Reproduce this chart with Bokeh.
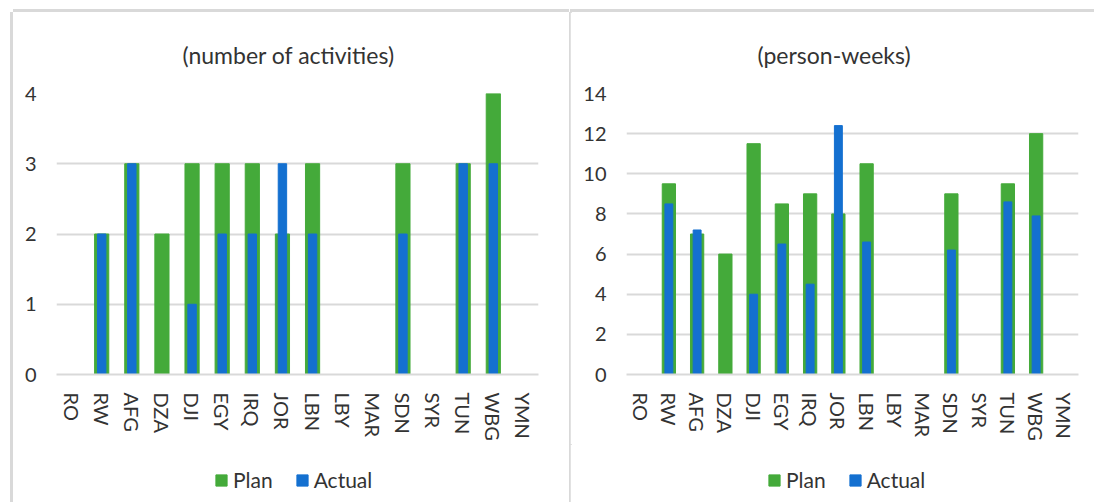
from bokeh.plotting import figure
from bokeh.models import FactorRange, Range1d, Legend, LegendItem, Title, SingleIntervalTicker
from bokeh.layouts import row, column
from bokeh.embed import file_html
from bokeh.resources import INLINE

cats = ["RO", "RW", "AFG", "DZA", "DJI", "EGY", "IRQ", "JOR", "LBN", "LBY", "MAR", "SDN", "SYR", "TUN", "WBG", "YMN"]
act_plan = [0, 2, 3, 2, 3, 3, 3, 2, 3, 0, 0, 3, 0, 3, 4, 0]
act_actual = [0, 2, 3, 0, 1, 2, 2, 3, 2, 0, 0, 2, 0, 3, 3, 0]
pw_plan = [0, 9.5, 7, 6, 11.5, 8.5, 9, 8, 10.5, 0, 0, 9, 0, 9.5, 12, 0]
pw_actual = [0, 8.5, 7.2, 0, 4, 6.5, 4.5, 12.4, 6.6, 0, 0, 6.2, 0, 8.6, 7.9, 0]
series = ["Plan", "Actual"]

GREEN = "#44AA3A"
BLUE = "#1470D0"
GRID = "#D9D9D9"
TEXT = "#333333"
FONT = "Lato"


def panel(title, plan, actual, ymax, step, width, mbl, mbr, margin, shadow, legx, toff):
    p = figure(x_range=FactorRange(*cats), y_range=Range1d(0, ymax),
               width=width, height=432, output_backend="svg",
               toolbar_location=None, min_border_left=mbl, min_border_right=mbr,
               min_border_top=81, min_border_bottom=70)
    p.outline_line_color = None
    p.title = Title(text=title, align="left", text_font=FONT, text_font_size="23px",
                    text_font_style="normal", text_color=TEXT, standoff=49, offset=toff)
    p.vbar(x=cats, top=plan, width=0.47, fill_color=GREEN, line_color=GREEN)
    p.vbar(x=cats, top=actual, width=0.28, fill_color=BLUE, line_color=BLUE)
    p.xgrid.grid_line_color = None
    p.ygrid.grid_line_color = GRID
    p.ygrid.grid_line_width = 2
    p.yaxis.ticker = SingleIntervalTicker(interval=step)
    for ax in (p.xaxis[0], p.yaxis[0]):
        ax.major_tick_line_color = None
        ax.minor_tick_line_color = None
        ax.major_label_text_font = FONT
        ax.major_label_text_font_size = "20px"
        ax.major_label_text_color = TEXT
    p.yaxis.axis_line_color = None
    p.yaxis.major_label_standoff = 14
    p.xaxis.axis_line_color = GRID
    p.xaxis.axis_line_width = 2
    p.xaxis.major_label_orientation = "vertical"
    p.xaxis.major_label_standoff = 12

    # legend strip below the chart (bars sit outside its visible y range)
    lf = figure(width=width, height=58, output_backend="svg", toolbar_location=None,
                x_axis_type=None, y_axis_type=None, min_border=0,
                x_range=FactorRange(*cats), y_range=Range1d(100, 101))
    lf.outline_line_color = None
    lf.grid.grid_line_color = None
    g = lf.vbar(x=cats, top=plan, width=0.47, fill_color=GREEN, line_color=GREEN)
    b = lf.vbar(x=cats, top=actual, width=0.28, fill_color=BLUE, line_color=BLUE)
    leg = Legend(items=[LegendItem(label=series[0], renderers=[g], index=1),
                        LegendItem(label=series[1], renderers=[b], index=1)],
                 orientation="horizontal", location=(legx, 10),
                 label_text_font=FONT, label_text_font_size="21px",
                 label_text_color=TEXT, glyph_width=14, glyph_height=14,
                 label_standoff=5, spacing=22, border_line_color=None,
                 background_fill_alpha=0, margin=0, padding=4)
    lf.add_layout(leg, "center")
    return column(p, lf, margin=margin, styles={"box-shadow": shadow})


c1 = panel("(number of activities)", act_plan, act_actual, 4, 1, 556, 43, 31,
           (12, 0, 0, 13),
           "-3px 0 0 0 #D9D9D9, 3px 0 0 0 #D9D9D9, 0 -3px 0 0 #D9D9D9", 158, 126)
c2 = panel("(person-weeks)", pw_plan, pw_actual, 14, 2, 524, 56, 16,
           (12, 0, 0, 1),
           "0 -3px 0 0 #D9D9D9", 141, 131)

layout = row(c1, c2)
open("out.html", "w").write(file_html(layout, INLINE))
